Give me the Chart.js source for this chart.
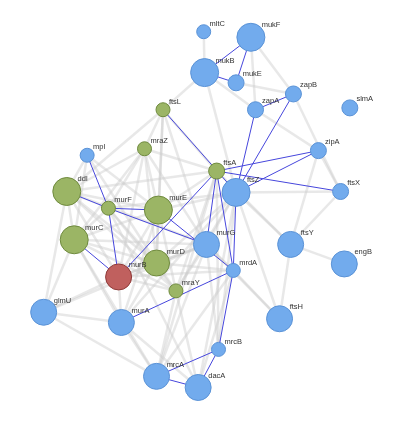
<!DOCTYPE html>
<html>
<head>
<meta charset="utf-8">
<script src="https://cdn.jsdelivr.net/npm/chart.js@4"></script>
<style>
  html, body { margin: 0; padding: 0; background: #fff; }
</style>
</head>
<body>
<canvas id="net" width="400" height="422"></canvas>
<script>
// Node data: name, x, y, size, group
const nodeNames = ['mltC','mukF','mukB','mukE','zapB','zapA','slmA','zipA','ftsX','ftsZ','ftsA','ftsL','mraZ','mpl','ddl','murF','murE','murC','murD','murB','mraY','murG','mrdA','ftsY','engB','ftsH','glmU','murA','mrcB','mrcA','dacA'];
const nodeX = [204,255,205,239,301,260,362,328,352,239,218,160,140,78,56,101,155,64,153,112,174,207,236,298,356,286,31,115,220,153,198];
const nodeY = [18,24,62,73,85,102,100,146,190,191,168,102,144,151,190,208,210,242,267,282,297,247,275,247,268,327,320,331,360,389,401];
const nodeSize = [7,14,14,8,8,8,8,8,8,14,8,7,7,7,14,7,14,14,13,13,7,13,7,13,13,13,13,13,7,13,13];
const nodeGroup = ['b','b','b','b','b','b','b','b','b','b','g','g','g','b','g','g','g','g','g','r','g','b','b','b','b','b','b','b','b','b','b'];

const blueEdges = [
  ['mukF','mukB'],['mukF','mukE'],['mukB','mukE'],['zapA','zapB'],['zapA','ftsZ'],['zapB','ftsZ'],
  ['ftsA','zipA'],['ftsZ','zipA'],['ftsA','ftsX'],['ftsL','ftsZ'],['mpl','murF'],['ddl','murF'],
  ['murF','murE'],['murC','murB'],['murF','murB'],['murB','ftsA'],['murF','murG'],['murA','mrdA'],
  ['mrdA','ftsA'],['mrdA','ftsZ'],['mrdA','mrcB'],['mrcB','dacA'],['mrcA','mrcB'],['mrcA','dacA'],
  ['ftsA','murG'],['murE','mrdA']
];
const greyEdges = [
  ['mukB','ftsL'],['mukB','zapA'],['mukB','ftsZ'],['mukE','zapB'],['mukF','zapB'],['mukF','zapA'],
  ['zapB','ftsX'],['zapA','zipA'],['zipA','ftsX'],['zipA','ftsY'],['ftsX','ftsY'],['ftsZ','ftsY'],
  ['ftsY','ftsH'],['ftsY','engB'],['ftsA','ftsY'],['ftsZ','ftsH'],['mrdA','ftsH'],['murG','ftsH'],
  ['ftsL','mraZ'],['ftsL','murE'],['ftsL','ddl'],['ftsL','murG'],['ftsL','murD'],['ftsL','ftsA'],
  ['mraZ','murE'],['mraZ','murF'],['mraZ','ddl'],['mraZ','murD'],['mraZ','murC'],['mraZ','murB'],
  ['mraZ','ftsA'],['mraZ','murG'],['mpl','ddl'],['mpl','murE'],['mpl','murC'],['mpl','murD'],
  ['ddl','murE'],['ddl','murC'],['ddl','murD'],['ddl','murB'],['ddl','murG'],['ddl','mraY'],
  ['ddl','glmU'],['ddl','ftsA'],['murF','murC'],['murF','murD'],['murF','mraY'],['murF','ftsZ'],
  ['murE','murC'],['murE','murD'],['murE','murB'],['murE','mraY'],['murE','ftsA'],['murE','ftsZ'],
  ['murE','murA'],['murC','murD'],['murC','mraY'],['murC','murG'],['murC','glmU'],['murC','murA'],
  ['murD','murB'],['murD','mraY'],['murD','murG'],['murD','mrdA'],['murD','murA'],['murD','ftsZ'],
  ['murB','mraY'],['murB','murG'],['murB','murA'],['murB','glmU'],['murB','mrdA'],['mraY','murG'],
  ['mraY','ftsZ'],['mraY','ftsA'],['mraY','mrcA'],['mraY','dacA'],['murG','mrdA'],['murG','ftsZ'],
  ['murG','mrcB'],['murG','mrcA'],['murA','glmU'],['murA','mrcA'],['murA','dacA'],['murA','ftsZ'],
  ['glmU','mrcA'],['glmU','murG'],['mrdA','mrcA'],['mrdA','dacA'],['ftsZ','mrcB'],['ftsZ','dacA'],
  ['ftsA','mrcA'],['ftsA','mrcB'],['murF','dacA'],['murC','mrcA'],['ftsZ','ftsX'],['mltC','mukB']
];

const fills = { b: '#72abed', g: '#9bb565', r: '#c0605e' };
const borders = { b: '#5a92d6', g: '#6f8a3e', r: '#8f3a38' };

function pt(name) {
  const i = nodeNames.indexOf(name);
  return { x: nodeX[i], y: nodeY[i] };
}

function edgeSet(list, color, width, order) {
  return list.map(e => ({
    type: 'line',
    order: order,
    data: [pt(e[0]), pt(e[1])],
    borderColor: color,
    borderWidth: width,
    pointRadius: 0,
    fill: false
  }));
}

const labelPlugin = {
  id: 'labels',
  afterDatasetsDraw(chart) {
    const ds = chart.data.datasets.length - 1;
    const meta = chart.getDatasetMeta(ds);
    const ctx = chart.ctx;
    ctx.save();
    ctx.font = '7.5px "Liberation Sans", Arial, sans-serif';
    ctx.fillStyle = '#333';
    ctx.textBaseline = 'bottom';
    meta.data.forEach((el, i) => {
      const r = nodeSize[i];
      ctx.fillText(nodeNames[i], el.x + r * 0.7 + 1, el.y - r * 0.6);
    });
    ctx.restore();
  }
};

new Chart(document.getElementById('net'), {
  type: 'bubble',
  data: {
    datasets: [
      ...edgeSet(greyEdges, 'rgba(205,205,205,0.45)', 2.5, 3),
      ...edgeSet(blueEdges, '#4646dc', 1, 2),
      {
        type: 'bubble',
        order: 0,
        data: nodeNames.map((n, i) => ({ x: nodeX[i], y: nodeY[i], r: nodeSize[i] })),
        backgroundColor: nodeGroup.map(g => fills[g]),
        borderColor: nodeGroup.map(g => borders[g]),
        borderWidth: 1
      }
    ]
  },
  options: {
    responsive: false,
    animation: false,
    layout: { padding: 0 },
    plugins: { legend: { display: false }, tooltip: { enabled: false } },
    scales: {
      x: { type: 'linear', min: 0, max: 400, display: false },
      y: { type: 'linear', min: 0, max: 422, reverse: true, display: false }
    }
  },
  plugins: [labelPlugin]
});
</script>
</body>
</html>
